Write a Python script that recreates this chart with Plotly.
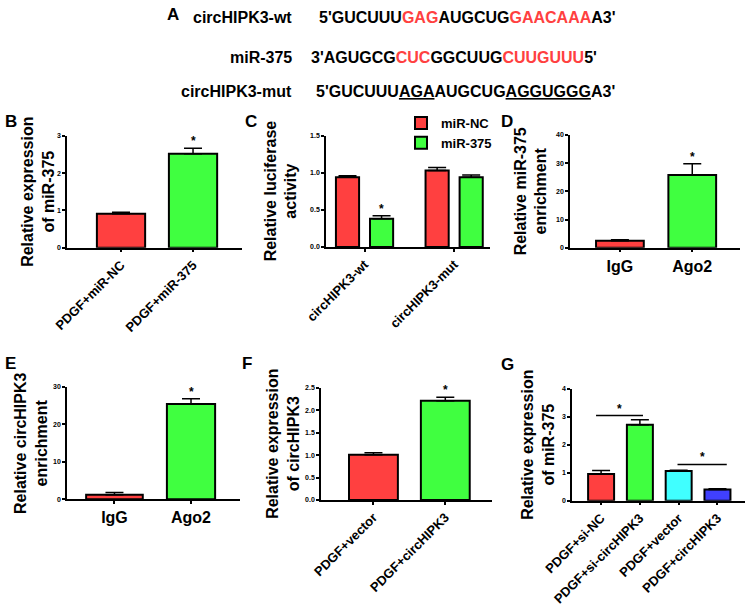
import plotly.graph_objects as go

# ---- data ----
b_cats = ['PDGF+miR-NC', 'PDGF+miR-375']
b_vals = [0.91, 2.52]
b_err = [0.04, 0.15]

c_cats = ['circHIPK3-wt', 'circHIPK3-mut']
c_nc = [0.94, 1.03]
c_nc_err = [0.02, 0.04]
c_375 = [0.38, 0.94]
c_375_err = [0.04, 0.03]

d_cats = ['IgG', 'Ago2']
d_vals = [2.5, 25.8]
d_err = [0.3, 4.0]

e_cats = ['IgG', 'Ago2']
e_vals = [1.2, 25.4]
e_err = [0.6, 1.4]

f_cats = ['PDGF+vector', 'PDGF+circHIPK3']
f_vals = [1.01, 2.21]
f_err = [0.04, 0.08]

g_cats = ['PDGF+si-NC', 'PDGF+si-circHIPK3', 'PDGF+vector', 'PDGF+circHIPK3']
g_vals = [0.96, 2.72, 1.06, 0.40]
g_err = [0.12, 0.18, 0.03, 0.03]
g_sig_x0 = [-0.13, 1.97]
g_sig_x1 = [1.08, 3.24]
g_sig_y = [3.05, 1.3]

RED = '#ff4040'
GREEN = '#40ff40'
CYAN = '#40ffff'
BLUE = '#4040ff'
FONT = 'Liberation Sans, Arial, sans-serif'
W, H = 745, 609


def px(x):
    return x / W


def py(y):
    return 1 - y / H


def err(a):
    return dict(type='data', array=a, arrayminus=[0] * len(a), symmetric=False,
                color='black', thickness=1.5, width=9)


fig = go.Figure()
bar_line = dict(color='black', width=2)

# B
fig.add_trace(go.Bar(x=[0, 1], y=b_vals, width=0.67, marker=dict(color=[RED, GREEN], line=bar_line),
                     error_y=err(b_err), showlegend=False, xaxis='x', yaxis='y'))
# C
fig.add_trace(go.Bar(x=[0, 1], y=c_nc, name='miR-NC', marker=dict(color=RED, line=bar_line),
                     error_y=err(c_nc_err), xaxis='x2', yaxis='y2'))
fig.add_trace(go.Bar(x=[0, 1], y=c_375, name='miR-375', marker=dict(color=GREEN, line=bar_line),
                     error_y=err(c_375_err), xaxis='x2', yaxis='y2'))
# D
fig.add_trace(go.Bar(x=[0, 1], y=d_vals, width=0.66, marker=dict(color=[RED, GREEN], line=bar_line),
                     error_y=err(d_err), showlegend=False, xaxis='x3', yaxis='y3'))
# E
fig.add_trace(go.Bar(x=[0, 1], y=e_vals, width=[0.74, 0.63], marker=dict(color=[RED, GREEN], line=bar_line),
                     error_y=err(e_err), showlegend=False, xaxis='x4', yaxis='y4'))
# F
fig.add_trace(go.Bar(x=[0, 1], y=f_vals, width=0.68, marker=dict(color=[RED, GREEN], line=bar_line),
                     error_y=err(f_err), showlegend=False, xaxis='x5', yaxis='y5'))
# G
fig.add_trace(go.Bar(x=list(range(4)), y=g_vals, width=0.67,
                     marker=dict(color=[RED, GREEN, CYAN, BLUE], line=bar_line),
                     error_y=err(g_err), showlegend=False, xaxis='x6', yaxis='y6'))
for x0, x1, yv in zip(g_sig_x0, g_sig_x1, g_sig_y):
    fig.add_trace(go.Scatter(x=[x0, x1], y=[yv, yv], mode='lines', line=dict(color='black', width=1.5),
                             showlegend=False, hoverinfo='skip', xaxis='x6', yaxis='y6'))

# panel geometry (pixels): left, right, top, bottom, x range, y range, title centre x
panels = [
    dict(l=67, r=242, t=136, b=247.7, xr=[-0.75, 1.68], yr=[0, 3], dt=1, cats=b_cats, ang=-45,
         title='Relative expression<br>of miR-375', fmt='', tx=38),
    dict(l=326, r=490, t=135.7, b=247, xr=[-0.43, 1.40], yr=[0, 1.5], dt=0.5, cats=c_cats, ang=-45,
         title='Relative luciferase<br>activity', fmt='.1f', tx=281),
    dict(l=570, r=740, t=135, b=247.7, xr=[-0.69, 1.66], yr=[0, 40], dt=10, cats=d_cats, ang=0,
         title='Relative miR-375<br>enrichment', fmt='', tx=531),
    dict(l=67, r=240, t=386.7, b=499.3, xr=[-0.62, 1.64], yr=[0, 30], dt=10, cats=e_cats, ang=0,
         title='Relative circHIPK3<br>enrichment', fmt='', tx=31),
    dict(l=321, r=492, t=387.7, b=500, xr=[-0.73, 1.65], yr=[0, 2.5], dt=0.5, cats=f_cats, ang=-45,
         title='Relative expression<br>of circHIPK3', fmt='.1f', tx=283),
    dict(l=572, r=745, t=389, b=500.7, xr=[-0.75, 3.71], yr=[0, 4], dt=1, cats=g_cats, ang=-45,
         title='Relative expression<br>of miR-375', fmt='', tx=538),
]

ann = []
axis_common = dict(showline=True, linecolor='black', linewidth=1.5, ticks='outside', ticklen=3,
                   tickwidth=1.5, tickcolor='black', showgrid=False, zeroline=False, automargin=False)
for i, p in enumerate(panels):
    n = '' if i == 0 else str(i + 1)
    fig.layout['xaxis' + n] = dict(domain=[px(p['l']), px(p['r'])], range=p['xr'], anchor='y' + n,
                                   tickvals=list(range(len(p['cats']))), ticktext=p['cats'],
                                   tickangle=p['ang'],
                                   tickfont=dict(size=13 if p['ang'] else 16, color='black', weight='bold'),
                                   **axis_common)
    fig.layout['yaxis' + n] = dict(domain=[py(p['b']), py(p['t'])], range=p['yr'], anchor='x' + n,
                                   dtick=p['dt'], tick0=0, tickformat=p['fmt'],
                                   tickfont=dict(size=7, color='black', weight='bold'),
                                   **axis_common)
    # y-axis title as a rotated annotation so it sits where the original has it
    ann.append(dict(x=px(p['tx']), y=py((p['t'] + p['b']) / 2), xref='paper', yref='paper',
                    text=p['title'], textangle=-90, showarrow=False, xanchor='center', yanchor='middle',
                    font=dict(size=16, color='black', weight='bold')))

# significance stars
stars = [('x', 'y', 1, b_vals[1] + b_err[1]),
         ('x2', 'y2', 0.19, c_375[0] + c_375_err[0]),
         ('x3', 'y3', 1, d_vals[1] + d_err[1]),
         ('x4', 'y4', 1, e_vals[1] + e_err[1]),
         ('x5', 'y5', 1, f_vals[1] + f_err[1])]
for x0, x1, yv in zip(g_sig_x0, g_sig_x1, g_sig_y):
    stars.append(('x6', 'y6', (x0 + x1) / 2, yv))
for xr, yr, xv, yv in stars:
    ann.append(dict(x=xv, y=yv, xref=xr, yref=yr, text='*', showarrow=False, yanchor='bottom',
                    yshift=-2, font=dict(size=12, color='black', weight='bold')))

# panel letters
for t, x, y in [('A', 165, 3), ('B', 3, 110), ('C', 243, 110), ('D', 499, 110),
                ('E', 3, 352), ('F', 240, 352), ('G', 499, 353)]:
    ann.append(dict(x=px(x), y=py(y), xref='paper', yref='paper', text=t, showarrow=False,
                    xanchor='left', yanchor='top', font=dict(size=17, color='black', weight='bold')))

# panel A sequences
red = '<span style="color:%s">%s</span>'
ul = '<span style="text-decoration:underline">%s</span>'
rows = [
    ('circHIPK3-wt', "5'GUCUUU" + red % (RED, 'GAG') + 'AUGCUG' + red % (RED, 'GAACAAA') + "A3'", 18, 317),
    ('miR-375', "3'AGUGCG" + red % (RED, 'CUC') + 'GGCUUG' + red % (RED, 'CUUGUUU') + "5'", 57, 309),
    ('circHIPK3-mut', "5'GUCUUU" + ul % 'AGA' + 'AUGCUG' + ul % 'AGGUGGG' + "A3'", 91, 314),
]
for lab, seq, y, xs in rows:
    ann.append(dict(x=px(294), y=py(y), xref='paper', yref='paper', text=lab, showarrow=False,
                    xanchor='right', yanchor='middle', font=dict(size=16, color='black', weight='bold')))
    ann.append(dict(x=px(xs), y=py(y), xref='paper', yref='paper', text=seq, showarrow=False,
                    xanchor='left', yanchor='middle', font=dict(size=16, color='black', weight='bold')))

fig.update_layout(
    width=W, height=H, margin=dict(l=0, r=0, t=0, b=0),
    paper_bgcolor='white', plot_bgcolor='white',
    font=dict(family=FONT, color='black'),
    barmode='group', bargap=0.24, bargroupgap=0.32,
    legend=dict(x=px(401), y=py(108), xanchor='left', yanchor='top', bgcolor='rgba(0,0,0,0)',
                font=dict(size=13, weight='bold'), tracegroupgap=2),
    annotations=ann,
)

# drop the default 8px page margin so the figure sits at the window's top-left corner
fig.write_html('out.html', config={'displayModeBar': False},
               post_script="document.body.style.margin='0';")
